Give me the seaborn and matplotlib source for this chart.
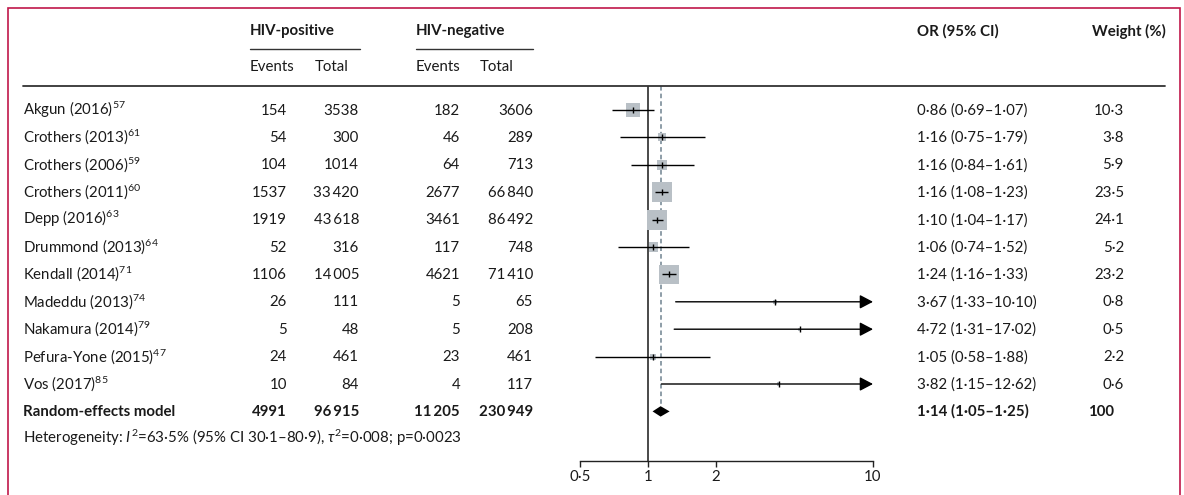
import numpy as np
import pandas as pd
import seaborn as sns
import matplotlib.pyplot as plt
from matplotlib import transforms
from matplotlib.lines import Line2D
from matplotlib.patches import Rectangle
from matplotlib.ticker import NullLocator

sns.set_theme(style="white")
plt.rcParams["font.family"] = ["Lato", "DejaVu Sans"]
plt.rcParams["mathtext.fontset"] = "custom"
plt.rcParams["mathtext.rm"] = "Lato"
plt.rcParams["mathtext.it"] = "Lato:italic"
plt.rcParams["mathtext.bf"] = "Lato:bold"

studies = ["Akgun (2016)", "Crothers (2013)", "Crothers (2006)", "Crothers (2011)",
           "Depp (2016)", "Drummond (2013)", "Kendall (2014)", "Madeddu (2013)",
           "Nakamura (2014)", "Pefura-Yone (2015)", "Vos (2017)"]
refs = ["57", "61", "59", "60", "63", "64", "71", "74", "79", "47", "85"]
pos_events = [154, 54, 104, 1537, 1919, 52, 1106, 26, 5, 24, 10]
pos_total = [3538, 300, 1014, 33420, 43618, 316, 14005, 111, 48, 461, 84]
neg_events = [182, 46, 64, 2677, 3461, 117, 4621, 5, 5, 23, 4]
neg_total = [3606, 289, 713, 66840, 86492, 748, 71410, 65, 208, 461, 117]
odds = [0.86, 1.16, 1.16, 1.16, 1.10, 1.06, 1.24, 3.67, 4.72, 1.05, 3.82]
ci_low = [0.69, 0.75, 0.84, 1.08, 1.04, 0.74, 1.16, 1.33, 1.31, 0.58, 1.15]
ci_high = [1.07, 1.79, 1.61, 1.23, 1.17, 1.52, 1.33, 10.10, 17.02, 1.88, 12.62]
weights = [10.3, 3.8, 5.9, 23.5, 24.1, 5.2, 23.2, 0.8, 0.5, 2.2, 0.6]

pooled_label = "Random-effects model"
pooled_counts = [4991, 96915, 11205, 230949]
pooled_or, pooled_low, pooled_high = 1.14, 1.05, 1.25
pooled_weight = "100"
heterogeneity = ("Heterogeneity: $\\mathit{I}^{\\mathregular{2}}$=63·5% (95% CI 30·1–80·9), "
                 "$\\tau^{\\mathregular{2}}$=0·008; p=0·0023")
x_ticks = [0.5, 1, 2, 10]
x_ticklabels = ["0·5", "1", "2", "10"]

W, H = 1184, 495
ROW0, ROWH = 110, 27.4
BASE = 0.17
FS = 10.8
TXT = "#1a1a1a"


def fx(px):
    return px / W


def fy(py):
    return 1 - py / H


def row_of(py):
    return (py - ROW0) / ROWH


def fmt_int(v):
    return f"{v:,}".replace(",", "\u2009") if v >= 10000 else str(v)


def fmt_dec(v, n=2):
    return f"{v:.{n}f}".replace(".", "·")


df = pd.DataFrame({"odds": odds, "low": ci_low, "high": ci_high,
                   "weight": weights, "row": np.arange(len(studies))})
pooled_row = len(studies)

fig = plt.figure(figsize=(W / 100, H / 100), dpi=100)
ax = fig.add_axes([fx(580), fy(460.7), fx(873) - fx(580), (460.7 - 86) / H])
ax.set_xscale("log")
ax.set_xlim(0.5, 10)
ax.set_ylim(row_of(460.7), row_of(86))
ax.patch.set_alpha(0)

# reference lines
ax.axvline(1, color="#3a3a3a", lw=1.3, zorder=1)
dh = 0.19
ax.plot([pooled_or, pooled_or], [row_of(86), pooled_row - dh], ls=(0, (3, 2)),
        color="#6f8290", lw=1.1, zorder=1)

# weighted squares
k = 8.71
sns.scatterplot(data=df, x="odds", y="row", size="weight",
                sizes=(k * min(weights), k * max(weights)),
                size_norm=(min(weights), max(weights)),
                marker="s", color="#b9c0c6", linewidth=0, legend=False,
                ax=ax, zorder=2)

# confidence intervals
inside = df[df.high <= 10]
ax.hlines(inside.row, inside.low, inside.high, color="black", lw=1, zorder=3)
for r in df[df.high > 10].itertuples():
    ax.annotate("", xy=(10, r.row), xytext=(r.low, r.row), annotation_clip=False,
                arrowprops=dict(arrowstyle="-|>,head_length=0.8,head_width=0.42",
                                mutation_scale=10, color="black", lw=1,
                                shrinkA=0, shrinkB=0), zorder=3)
ax.plot(df.odds, df.row, linestyle="none", marker="|", ms=5, mew=1,
        color="black", zorder=4)

# pooled diamond
ax.fill([pooled_low, pooled_or, pooled_high, pooled_or],
        [pooled_row, pooled_row - dh, pooled_row, pooled_row + dh],
        color="black", lw=0, zorder=4)

for s in ["left", "top", "right"]:
    ax.spines[s].set_visible(False)
ax.spines["bottom"].set_bounds(0.5, 10)
ax.spines["bottom"].set_color("#222222")
ax.spines["bottom"].set_linewidth(1)
ax.set_xticks(x_ticks)
ax.set_xticklabels(x_ticklabels)
ax.xaxis.set_minor_locator(NullLocator())
ax.set_yticks([])
ax.set_xlabel("")
ax.set_ylabel("")
ax.tick_params(axis="x", bottom=True, direction="out", length=4, width=1,
               pad=3, labelsize=FS, color="#222222", labelcolor=TXT)

# table text
tr = transforms.blended_transform_factory(fig.transFigure, ax.transData)
for i, (name, ref) in enumerate(zip(studies, refs)):
    y = i + BASE
    ax.text(fx(23), y, f"{name}$^{{\\mathregular{{{ref}}}}}$", transform=tr,
            fontsize=FS, color=TXT, va="baseline")
    for xr, v in zip([287, 359, 460, 533],
                     [pos_events[i], pos_total[i], neg_events[i], neg_total[i]]):
        ax.text(fx(xr), y, fmt_int(v), transform=tr, fontsize=FS, color=TXT,
                va="baseline", ha="right")
    ax.text(fx(917), y, f"{fmt_dec(odds[i])} ({fmt_dec(ci_low[i])}–{fmt_dec(ci_high[i])})",
            transform=tr, fontsize=FS, color=TXT, va="baseline")
    ax.text(fx(1124), y, fmt_dec(weights[i], 1), transform=tr, fontsize=FS,
            color=TXT, va="baseline", ha="right")

y = pooled_row + BASE
ax.text(fx(23), y, pooled_label, transform=tr, fontsize=FS, color=TXT,
        va="baseline", fontweight="bold")
for xr, v in zip([287, 359, 460, 533], pooled_counts):
    ax.text(fx(xr), y, fmt_int(v), transform=tr, fontsize=FS, color=TXT,
            va="baseline", ha="right", fontweight="bold")
ax.text(fx(917), y, f"{fmt_dec(pooled_or)} ({fmt_dec(pooled_low)}–{fmt_dec(pooled_high)})",
        transform=tr, fontsize=FS, color=TXT, va="baseline", fontweight="bold")
ax.text(fx(1114), y, pooled_weight, transform=tr, fontsize=FS, color=TXT,
        va="baseline", ha="right", fontweight="bold")
ax.text(fx(23), pooled_row + 1 + BASE, heterogeneity, transform=tr, fontsize=FS,
        color=TXT, va="baseline")

# headers
for xl, lab in [(250, "HIV-positive"), (416, "HIV-negative"), (917, "OR (95% CI)")]:
    fig.text(fx(xl), fy(31), lab, fontsize=FS, fontweight="bold", color=TXT, va="center")
fig.text(fx(1166), fy(31), "Weight (%)", fontsize=FS, fontweight="bold",
         color=TXT, va="center", ha="right")
for xl, lab in [(250, "Events"), (315, "Total"), (416, "Events"), (480, "Total")]:
    fig.text(fx(xl), fy(67), lab, fontsize=FS, color=TXT, va="center")

for x0, x1 in [(250, 360), (416, 533)]:
    fig.add_artist(Line2D([fx(x0), fx(x1)], [fy(49), fy(49)], color="#333333", lw=1))
fig.add_artist(Line2D([fx(23), fx(1165)], [fy(86), fy(86)], color="#333333", lw=1.3))

# frame
fig.add_artist(Rectangle((fx(7.5), fy(530)), fx(1179.5) - fx(7.5), (530 - 7.5) / H,
                         fill=False, ec="#c0184a", lw=1.2, transform=fig.transFigure))

fig.savefig("out.png", dpi=100)
